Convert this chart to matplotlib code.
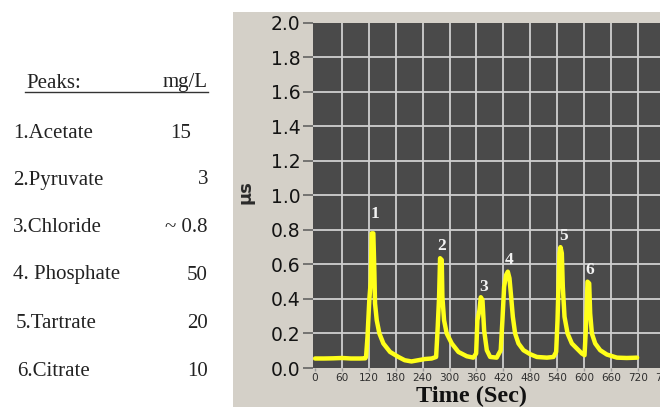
import matplotlib
matplotlib.use("Agg")
import matplotlib.pyplot as plt
from matplotlib.patches import Rectangle
from matplotlib.lines import Line2D

# ---- data ----
time_s = [0, 20, 40, 60, 80, 100, 112,
          113.8, 117, 121.2, 124.2, 126.4, 130, 132.4, 133.8, 137.6, 143.5, 152.4, 167.3, 185.9,
          200, 215, 230, 245, 260, 270,
          273.6, 276.6, 278.8, 282.5, 284, 287.7, 293.6, 304.9, 319.7, 338.4, 353,
          359.2, 362, 366.6, 369.6, 373.3, 377, 383, 390.4, 405,
          414, 417.8, 421.6, 426, 429.8, 433.5, 437.2, 441, 446.1, 453.6, 464.7, 479.6, 494.5, 516.8, 531.6,
          537.6, 540.6, 542.8, 545, 547.2, 550.2, 552.4, 556.2, 563, 572.6, 583.7, 594.9, 600.8,
          603.7, 606, 607.4, 611.2, 613.4, 617.2, 624.6, 635.7, 650.6, 673, 695, 718]
signal_us = [0.055, 0.055, 0.056, 0.058, 0.055, 0.055, 0.056,
             0.064, 0.18, 0.40, 0.50, 0.78, 0.78, 0.55, 0.374, 0.277, 0.20, 0.142, 0.093, 0.064,
             0.045, 0.038, 0.045, 0.052, 0.055, 0.064,
             0.24, 0.41, 0.636, 0.626, 0.41, 0.277, 0.20, 0.142, 0.093, 0.068, 0.06,
             0.084, 0.277, 0.335, 0.41, 0.394, 0.219, 0.103, 0.064, 0.06,
             0.103, 0.277, 0.471, 0.539, 0.558, 0.52, 0.413, 0.297, 0.20, 0.142, 0.103, 0.08, 0.064, 0.06, 0.064,
             0.093, 0.277, 0.48, 0.665, 0.70, 0.665, 0.471, 0.297, 0.20, 0.142, 0.113, 0.084, 0.074,
             0.219, 0.374, 0.50, 0.49, 0.316, 0.20, 0.142, 0.103, 0.078, 0.06, 0.058, 0.06]

peak_ids = ["1", "2", "3", "4", "5", "6"]
peak_label_t = [134, 282, 375, 433, 553, 613]
peak_label_y = [0.89, 0.705, 0.47, 0.627, 0.765, 0.57]

table_names = ["1.Acetate", "2.Pyruvate", "3.Chloride", "4. Phosphate", "5.Tartrate", "6.Citrate"]
table_values = ["15", "3", "~ 0.8", "50", "20", "10"]

y_ticks = [0.0, 0.2, 0.4, 0.6, 0.8, 1.0, 1.2, 1.4, 1.6, 1.8, 2.0]
x_ticks = [0, 60, 120, 180, 240, 300, 360, 420, 480, 540, 600, 660, 720, 780]

W, H = 660, 407
fig = plt.figure(figsize=(W / 100, H / 100), dpi=100)
fig.patch.set_facecolor("white")

# gray instrument panel (drawn beneath the axes)
fig.patches.append(Rectangle((233 / W, 0), 1 - 233 / W, 1 - 12 / H,
                             transform=fig.transFigure, facecolor="#d4d0c8",
                             edgecolor="none", zorder=-5))

ax_w = (781 + 4.46) * 0.4486 / W
ax = fig.add_axes([313 / W, 1 - 368 / H, ax_w, (368 - 22.7) / H])
ax.set_zorder(2)
ax.set_facecolor("#4a4a4a")
for s in ax.spines.values():
    s.set_visible(False)

ax.plot(time_s, signal_us, color="#ffff1a", lw=3.2, solid_joinstyle="round",
        solid_capstyle="round", zorder=3)

ax.set_xlim(-4.46, 781)
ax.set_ylim(0, 2.0)
ax.set_yticks(y_ticks)
ax.set_yticklabels([f"{v:.1f}" for v in y_ticks], fontsize=13.5,
                   family="DejaVu Sans", color="#141414")
ax.set_xticks(x_ticks)
ax.set_xticklabels([str(v) for v in x_ticks], fontsize=7.6,
                   family="DejaVu Sans", color="#2e2e2e")
ax.tick_params(axis="y", direction="out", length=7, width=1.1, color="#5a5a5a", pad=2)
ax.tick_params(axis="x", direction="out", length=2.5, width=1, color="#9a9a9a", pad=0.8)

ax.grid(True, color="#cfcfcf", lw=1.3, zorder=1)
ax.set_axisbelow(True)
yt = ax.yaxis.get_major_ticks()
yt[0].gridline.set_visible(False)
yt[-1].gridline.set_visible(False)
ax.xaxis.get_major_ticks()[0].gridline.set_visible(False)

for pid, tx, ty in zip(peak_ids, peak_label_t, peak_label_y):
    ax.text(tx, ty, pid, ha="center", va="center", fontsize=12.5, fontweight="bold",
            family="Liberation Serif", color="#f2f2f2", zorder=4)

fig.text(245 / W, 1 - 192 / H, "µs", rotation=90, ha="center", va="center",
         fontsize=13, fontweight="bold", family="DejaVu Sans", color="#2a2a2a")
fig.text(471 / W, 1 - 396 / H, "Time (Sec)", ha="center", va="center",
         fontsize=17.5, fontweight="bold", family="Liberation Serif", color="#111111")

# left-hand legend table
serif = "Liberation Serif"
fig.text(26 / W, 1 - 83 / H, "Peaks:", ha="left", va="center", fontsize=15,
         family=serif, color="#222222")
fig.text(208 / W, 1 - 83 / H, "mg/L", ha="right", va="center", fontsize=15,
         family=serif, color="#222222")
fig.lines.append(Line2D([25 / W, 208 / W], [1 - 92 / H, 1 - 92 / H],
                        transform=fig.transFigure, color="#333333", lw=1.0))

row_y = [133, 180, 228, 275, 323, 372]
row_x = [13, 13, 13, 13, 16, 17]
for name, val, ry, rx in zip(table_names, table_values, row_y, row_x):
    fig.text(rx / W, 1 - ry / H, name, ha="left", va="center", fontsize=15,
             family=serif, color="#222222")
    if val == "15":
        fig.text(181 / W, 1 - ry / H, val, ha="center", va="center", fontsize=15,
                 family=serif, color="#222222")
    else:
        fig.text(208 / W, 1 - ry / H, val, ha="right", va="center", fontsize=15,
                 family=serif, color="#222222")

fig.savefig("out.png", dpi=100)
